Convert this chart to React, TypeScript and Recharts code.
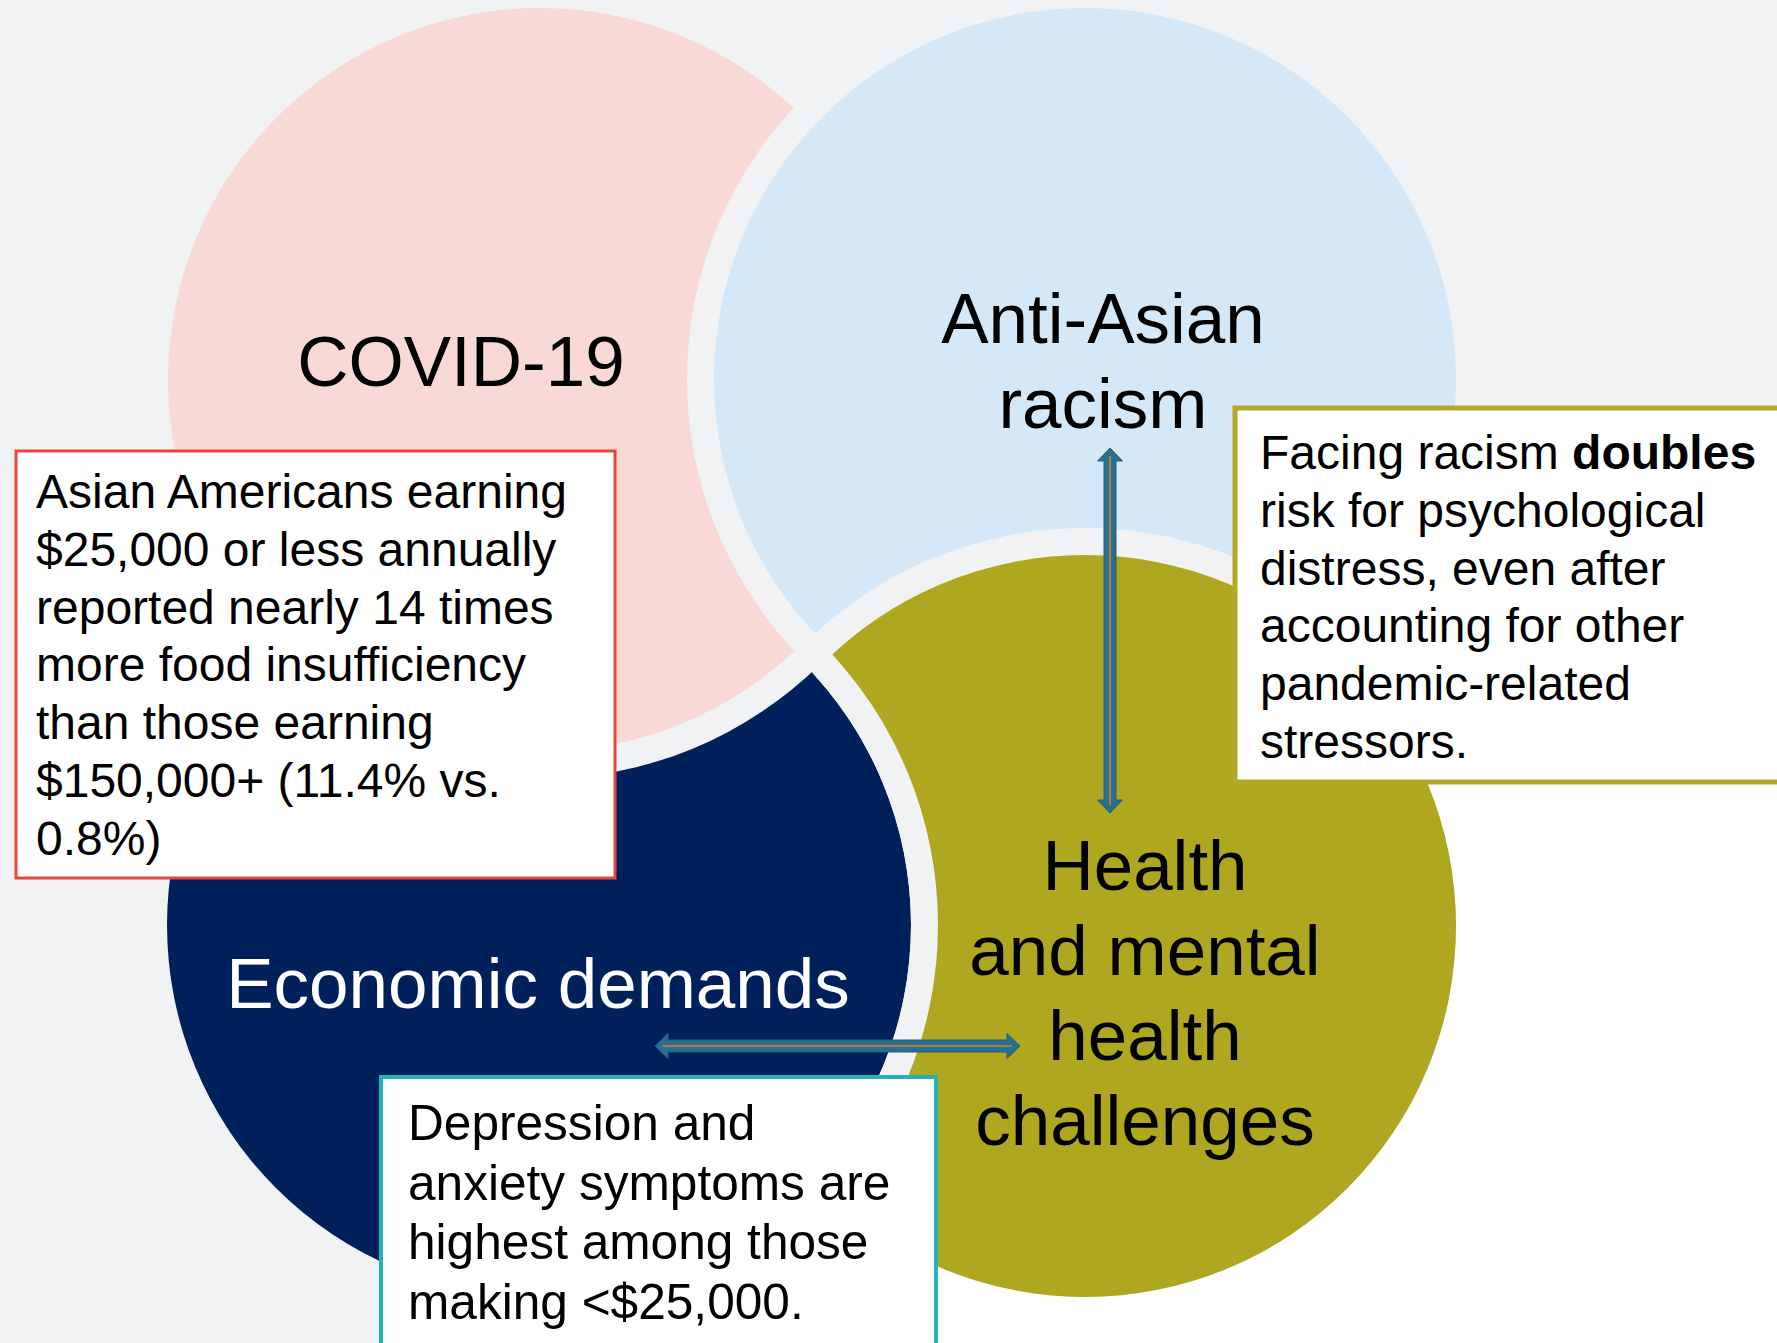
import React from 'react';
import { ScatterChart, Scatter, XAxis, YAxis, ReferenceArea, ReferenceLine } from 'recharts';

const W = 1777;
const H = 1343;
const FONT = '"Liberation Sans", Arial, Helvetica, sans-serif';
const GAP_COLOR = '#f0f2f4';
const GAP = 27;

// the four circles (picture units, y grows downward)
const circleNames = ['COVID-19', 'Anti-Asian racism', 'Economic demands', 'Health and mental health challenges'];
const circleX = [540, 1085, 539, 1085];
const circleY = [380, 379, 925, 926];
const circleR = [372, 371, 372, 371];
// index of the circle that lies on top of (cuts into) each one
const cutBy = [1, 3, 0, 2];
const circleFill = ['#f9d9d5', '#d5e8f8', '#00205b', '#aea71f'];

// circle titles
const labelLines = [['COVID-19'], ['Anti-Asian', 'racism'], ['Economic demands'], ['Health', 'and mental', 'health', 'challenges']];
const labelX = [461, 1103, 538, 1145];
const labelY = [386, 343, 1008, 890];
const labelColor = ['#000000', '#000000', '#ffffff', '#000000'];

// note boxes
const noteLines = [
  [
    'Asian Americans earning',
    '$25,000 or less annually',
    'reported nearly 14 times',
    'more food insufficiency',
    'than those earning',
    '$150,000+ (11.4% vs.',
    '0.8%)',
  ],
  [
    'Facing racism **doubles**',
    'risk for psychological',
    'distress, even after',
    'accounting for other',
    'pandemic-related',
    'stressors.',
  ],
  [
    'Depression and',
    'anxiety symptoms are',
    'highest among those',
    'making <$25,000.',
  ],
];
const noteX1 = [16, 1235, 381];
const noteX2 = [615, 1800, 936];
const noteY1 = [451, 408, 1077];
const noteY2 = [878, 782, 1370];
const noteStyle = [
  { stroke: '#e8463a', sw: 3, size: 48, lh: 57.8, padX: 20, base: 57 },
  { stroke: '#b3a924', sw: 5, size: 48, lh: 57.8, padX: 25, base: 61 },
  { stroke: '#21b3bb', sw: 4, size: 49.6, lh: 59.7, padX: 27, base: 63 },
];

// double-headed arrows
const arrowFrom = [{ x: 1110, y: 448 }, { x: 655, y: 1046 }];
const arrowTo = [{ x: 1110, y: 813 }, { x: 1020, y: 1046 }];

const circleData = circleNames.map((name, i) => ({
  name,
  x: circleX[i],
  y: circleY[i],
  r: circleR[i],
  cut: cutBy[i],
  i,
}));

const labelData = labelLines.map((lines, i) => ({ x: labelX[i], y: labelY[i], lines, i }));

const textLines = (
  lines: string[],
  x: number,
  y0: number,
  lh: number,
  size: number,
  fill: string,
  anchor: 'start' | 'middle'
) =>
  lines.map((ln, k) => {
    const parts = ln.split('**');
    return (
      <text key={k} x={x} y={y0 + k * lh} fontSize={size} fill={fill} textAnchor={anchor} fontFamily={FONT}>
        {parts.map((p, m) => (
          <tspan key={m} fontWeight={m % 2 ? 700 : 400}>
            {p}
          </tspan>
        ))}
      </text>
    );
  });

const CircleShape = (props: any) => {
  const { cx, cy, payload } = props;
  const i = payload.i;
  const j = payload.cut;
  // cutter centre in pixels: same 1:1 scale as own centre
  const ox = cx + (circleX[j] - payload.x);
  const oy = cy + (circleY[j] - payload.y);
  const rj = circleR[j];
  return (
    <g>
      <defs>
        <mask id={`gap-${i}`} maskUnits="userSpaceOnUse" x={0} y={0} width={W} height={H}>
          <rect x={0} y={0} width={W} height={H} fill="white" />
          <circle cx={ox} cy={oy} r={rj} fill="black" />
        </mask>
        <mask id={`fill-${i}`} maskUnits="userSpaceOnUse" x={0} y={0} width={W} height={H}>
          <rect x={0} y={0} width={W} height={H} fill="white" />
          <circle cx={ox} cy={oy} r={rj + GAP} fill="black" />
        </mask>
      </defs>
      <circle cx={cx} cy={cy} r={payload.r} fill={GAP_COLOR} mask={`url(#gap-${i})`} />
      <circle cx={cx} cy={cy} r={payload.r} fill={circleFill[i]} mask={`url(#fill-${i})`} />
    </g>
  );
};

const LabelShape = (props: any) => {
  const { cx, cy, payload } = props;
  return <g>{textLines(payload.lines, cx, cy, 85, 71, labelColor[payload.i], 'middle')}</g>;
};

const DoubleArrow = (props: any) => {
  const { x1, y1, x2, y2 } = props;
  const dx = x2 - x1;
  const dy = y2 - y1;
  const len = Math.hypot(dx, dy);
  const ux = dx / len;
  const uy = dy / len;
  const nx = -uy;
  const ny = ux;
  const sw = 6;
  const hw = 12.5;
  const hl = 13;
  const pt = (a: number, b: number) => `${x1 + ux * a + nx * b},${y1 + uy * a + ny * b}`;
  const pts = [
    pt(0, 0), pt(hl, hw), pt(hl, sw), pt(len - hl, sw), pt(len - hl, hw),
    pt(len, 0), pt(len - hl, -hw), pt(len - hl, -sw), pt(hl, -sw), pt(hl, -hw),
  ].join(' ');
  return (
    <g>
      <polygon points={pts} fill="#2b6e8e" stroke="#21607f" strokeWidth={1} />
      <line
        x1={x1 + ux * 8}
        y1={y1 + uy * 8}
        x2={x2 - ux * 8}
        y2={y2 - uy * 8}
        stroke="#d9822b"
        strokeWidth={1.6}
      />
    </g>
  );
};

const NoteBox = (idx: number) => (props: any) => {
  const { x, y, width, height } = props;
  const s = noteStyle[idx];
  return (
    <g>
      <rect x={x} y={y} width={width} height={height} fill="#ffffff" stroke={s.stroke} strokeWidth={s.sw} />
      {textLines(noteLines[idx], x + s.padX, y + s.base, s.lh, s.size, '#000000', 'start')}
    </g>
  );
};

export default function App() {
  return (
    <div style={{ position: 'absolute', left: 0, top: 0, width: W, height: H, background: '#ffffff', overflow: 'hidden' }}>
      <div style={{ position: 'absolute', left: 0, top: 0, width: W, height: 783, background: GAP_COLOR }} />
      <div style={{ position: 'absolute', left: 0, top: 783, width: 700, height: H - 783, background: GAP_COLOR }} />
      <div style={{ position: 'absolute', left: 0, top: 0 }}>
        <ScatterChart width={W} height={H} margin={{ top: 0, right: 0, bottom: 0, left: 0 }}>
          <XAxis type="number" dataKey="x" domain={[0, W]} allowDataOverflow hide />
          <YAxis type="number" dataKey="y" domain={[0, H]} reversed allowDataOverflow hide />
          <Scatter data={circleData} shape={CircleShape} isAnimationActive={false} />
          <Scatter data={labelData} shape={LabelShape} isAnimationActive={false} />
          {arrowFrom.map((a, k) => (
            <ReferenceLine
              key={`arrow-${k}`}
              segment={[a, arrowTo[k]]}
              ifOverflow="visible"
              shape={DoubleArrow}
              zIndex={800}
            />
          ))}
          {noteLines.map((_, k) => (
            <ReferenceArea
              key={`note-${k}`}
              x1={noteX1[k]}
              x2={noteX2[k]}
              y1={noteY1[k]}
              y2={noteY2[k]}
              ifOverflow="visible"
              shape={NoteBox(k)}
              zIndex={900}
            />
          ))}
        </ScatterChart>
      </div>
    </div>
  );
}
